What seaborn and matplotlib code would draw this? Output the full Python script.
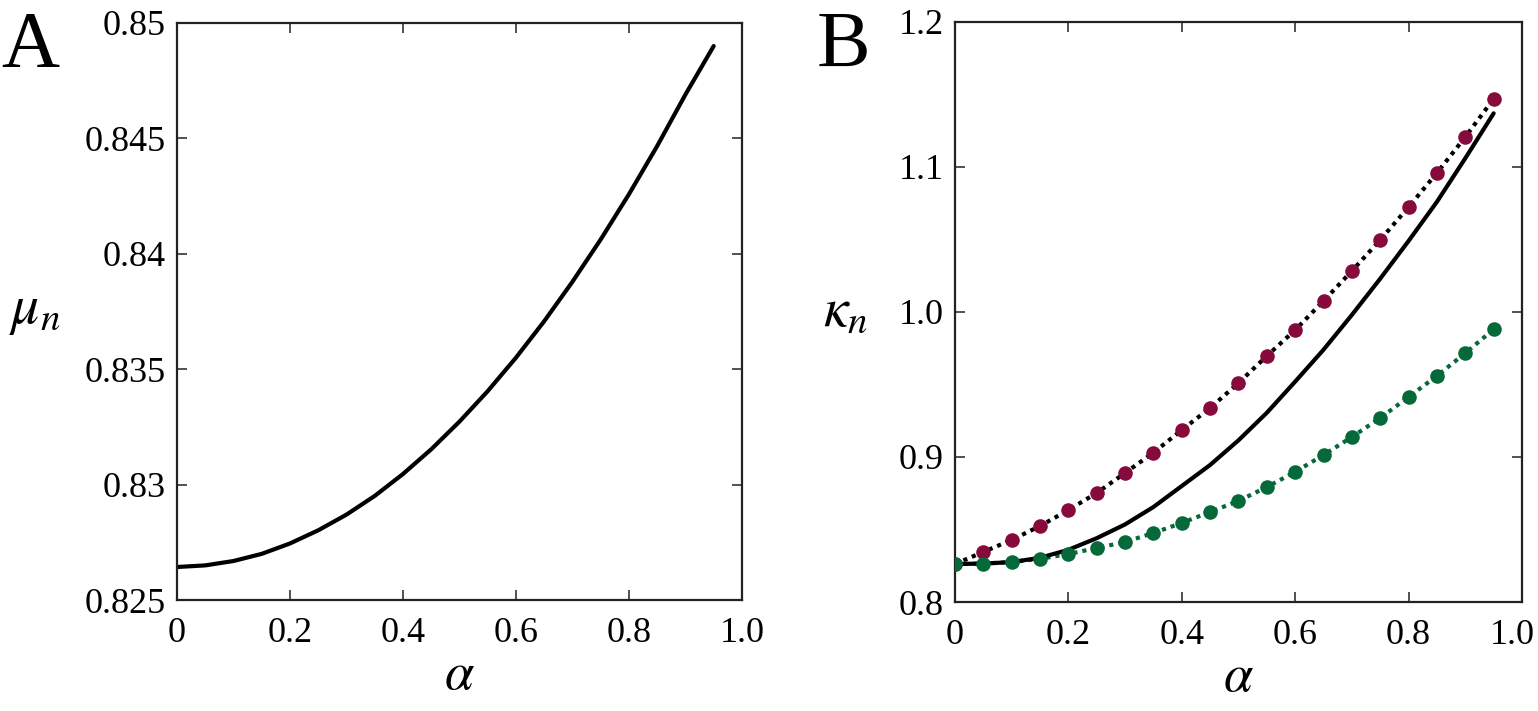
import numpy as np
import pandas as pd
import matplotlib
matplotlib.use("Agg")
import matplotlib.pyplot as plt
import matplotlib.transforms as mtransforms
import seaborn as sns

# Set seaborn style
sns.set_style("ticks")
plt.rcParams['font.family'] = ['Liberation Serif', 'DejaVu Serif']
plt.rcParams['mathtext.fontset'] = 'stix'
for key in ['text.color', 'axes.labelcolor', 'xtick.color', 'ytick.color', 'axes.edgecolor']:
    plt.rcParams[key] = 'black'

# panel A: mu_n against alpha
alpha_a = [0.0, 0.05, 0.1, 0.15, 0.2, 0.25, 0.3, 0.35, 0.4, 0.45,
           0.5, 0.55, 0.6, 0.65, 0.7, 0.75, 0.8, 0.85, 0.9, 0.95]
mu_n = [0.82643, 0.82650, 0.82669, 0.82700, 0.82745, 0.82802, 0.82870, 0.82951,
        0.83046, 0.83153, 0.83273, 0.83405, 0.83550, 0.83708, 0.83879, 0.84062,
        0.84258, 0.84467, 0.84690, 0.84900]

# panel B: kappa_n against alpha
alpha_b = alpha_a
kappa_solid = [0.8262, 0.8265, 0.8275, 0.8305, 0.8360, 0.8440, 0.8535, 0.8655,
               0.8800, 0.8945, 0.9115, 0.9305, 0.9520, 0.9740, 0.9980, 1.0230,
               1.0490, 1.0760, 1.1060, 1.1370]
kappa_upper = [0.8262, 0.8345, 0.8428, 0.8524, 0.8634, 0.8752, 0.8890, 0.9030,
               0.9186, 0.9338, 0.9510, 0.9697, 0.9876, 1.0076, 1.0283, 1.0497,
               1.0724, 1.0959, 1.1207, 1.1470]
kappa_lower = [0.8262, 0.8265, 0.8276, 0.8297, 0.8331, 0.8372, 0.8414, 0.8476,
               0.8545, 0.8621, 0.8697, 0.8793, 0.8897, 0.9014, 0.9138, 0.9269,
               0.9414, 0.9559, 0.9717, 0.9880]

x_ticks = [0, 0.2, 0.4, 0.6, 0.8, 1.0]
x_ticklabels = ['0', '0.2', '0.4', '0.6', '0.8', '1.0']
a_yticks = [0.825, 0.83, 0.835, 0.84, 0.845, 0.85]
a_yticklabels = ['0.825', '0.83', '0.835', '0.84', '0.845', '0.85']
b_yticks = [0.8, 0.9, 1.0, 1.1, 1.2]
b_yticklabels = ['0.8', '0.9', '1.0', '1.1', '1.2']

maroon = '#870a3c'
green = '#06693a'

df_a = pd.DataFrame({'alpha': alpha_a, 'mu': mu_n})
df_b = pd.DataFrame({'alpha': alpha_b, 'solid': kappa_solid,
                     'upper': kappa_upper, 'lower': kappa_lower})

fig = plt.figure(figsize=(15.38, 7.11), dpi=100)
ax_a = fig.add_axes([0.1151, 0.1561, 0.3673, 0.8116])
ax_b = fig.add_axes([0.6209, 0.1533, 0.3687, 0.8158])

dots = (0, (1.0, 1.2))

sns.lineplot(data=df_a, x='alpha', y='mu', ax=ax_a, color='black', linewidth=3.0)

sns.lineplot(data=df_b, x='alpha', y='upper', ax=ax_b, color='black',
             linewidth=3.0, linestyle=dots)
sns.lineplot(data=df_b, x='alpha', y='lower', ax=ax_b, color=green,
             linewidth=3.0, linestyle=dots)
sns.lineplot(data=df_b, x='alpha', y='solid', ax=ax_b, color='black', linewidth=3.0)
sns.scatterplot(data=df_b, x='alpha', y='upper', ax=ax_b, color=maroon,
                s=110, marker='o', edgecolor=maroon, linewidth=0, zorder=4)
sns.scatterplot(data=df_b, x='alpha', y='lower', ax=ax_b, color=green,
                s=110, marker='o', edgecolor=green, linewidth=0, zorder=4)

for ax, yt, ytl in [(ax_a, a_yticks, a_yticklabels), (ax_b, b_yticks, b_yticklabels)]:
    ax.set_xlim(0, 1.0)
    ax.set_ylim(yt[0], yt[-1])
    ax.set_xticks(x_ticks)
    ax.set_xticklabels(x_ticklabels)
    ax.set_yticks(yt)
    ax.set_yticklabels(ytl)
    ax.tick_params(direction='in', length=7, width=1.2, labelsize=26,
                   top=True, right=True, color='#333333')
    ax.tick_params(axis='x', pad=12)
    ax.tick_params(axis='y', pad=8)
    for sp in ax.spines.values():
        sp.set_linewidth(1.6)
        sp.set_color('#222222')
        sp.set_visible(True)
    ax.set_xlabel(r'$\alpha$', fontsize=38, labelpad=2)

ax_a.set_ylabel(r'$\mu_n$', fontsize=40, rotation=0, labelpad=36, va='center')
ax_b.set_ylabel(r'$\kappa_n$', fontsize=40, rotation=0, labelpad=38, va='center')

# keep the last x label of panel B inside the figure
last = ax_b.get_xticklabels()[-1]
last.set_transform(last.get_transform() +
                   mtransforms.ScaledTranslation(-10 / 100, 0, fig.dpi_scale_trans))

fig.text(0.001, 0.985, 'A', fontsize=58, va='top', ha='left')
fig.text(0.531, 0.985, 'B', fontsize=58, va='top', ha='left')

fig.savefig('out.png', dpi=100)
